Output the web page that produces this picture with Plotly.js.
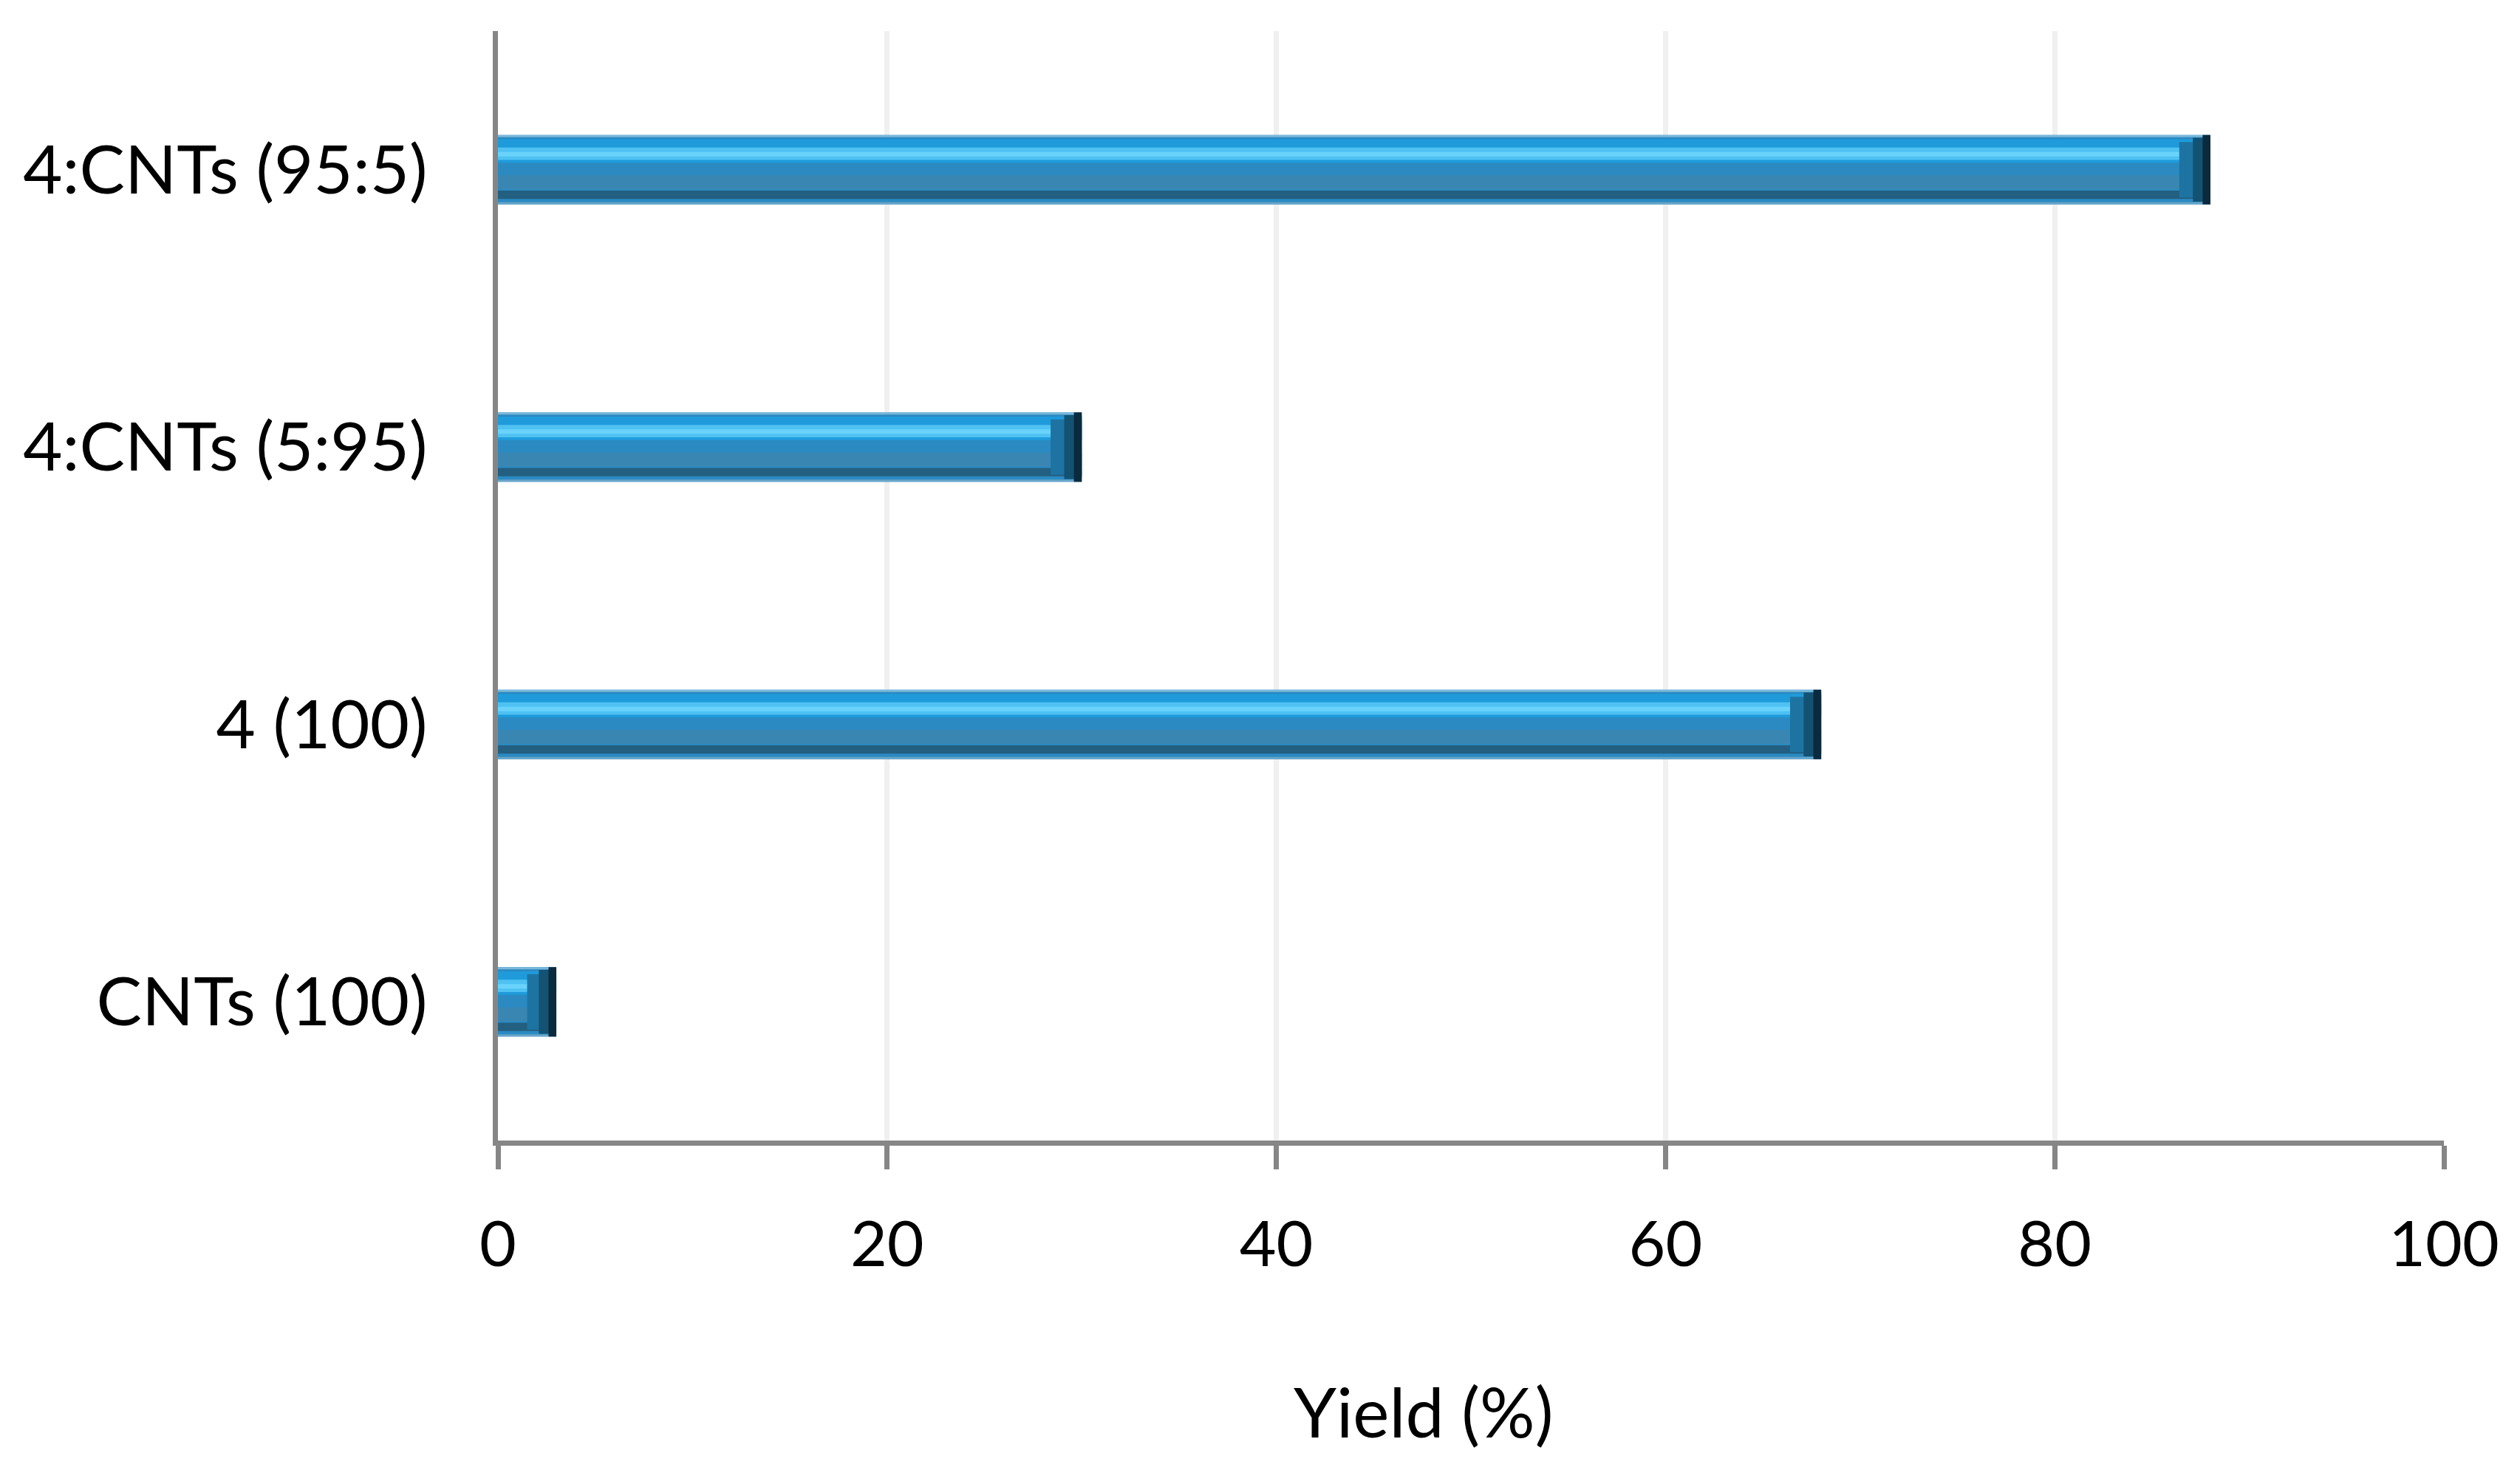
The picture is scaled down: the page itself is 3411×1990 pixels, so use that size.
<!DOCTYPE html>
<html>
<head>
<meta charset="utf-8">
<script src="https://cdn.plot.ly/plotly-3.0.1.min.js"></script>
<style>
html,body{margin:0;padding:0;background:#fff;}
#chart{width:3411px;height:1990px;}
</style>
</head>
<body>
<div id="chart"></div>
<script>
// Data (bottom to top on the category axis)
const categories = ["CNTs (100)", "4 (100)", "4:CNTs (5:95)", "4:CNTs (95:5)"];
const yieldValues = [3, 68, 30, 88];
const xTickValues = [0, 20, 40, 60, 80, 100];
const xTickLabels = ["0", "20", "40", "60", "80", "100"];
const xAxisTitle = "Yield (%)";

const FONT = "Lato, 'Open Sans', sans-serif";
const BAR_W = 0.25;

// Layered bars to imitate the bevelled look
function layer(color, width, offset, extra) {
  return Object.assign({
    type: "bar",
    orientation: "h",
    y: categories,
    x: yieldValues,
    width: width,
    offset: offset,
    marker: { color: color, line: { width: 0 } },
    hoverinfo: "skip",
    showlegend: false
  }, extra || {});
}

const capWide = yieldValues.map(v => Math.min(1.6, v / 2));
const capMid = yieldValues.map(v => Math.min(0.9, v / 3));
const capNarrow = yieldValues.map(v => Math.min(0.4, v / 6));

const traces = [
  layer("#2b8ac2", BAR_W, -BAR_W / 2),                     // body
  layer("#1f9bdb", 0.085, 0.025),                            // upper band
  layer("#4fc2f3", 0.045, 0.035),                            // highlight
  layer("#6ad3fb", 0.016, 0.048),                            // bright core
  layer("#3a86b2", 0.05, -0.07),                             // lower mid
  layer("#235f80", 0.03, -0.105),                            // bottom shadow
  layer("#7ab8da", 0.008, 0.117),                            // top edge
  layer("#6aa6c8", 0.008, -0.125),                           // bottom edge
  layer("#1d74a3", 0.2, -0.1, {                              // end bevel
    x: capWide, base: yieldValues.map((v, i) => v - capWide[i])
  }),
  layer("#135273", 0.23, -0.115, {                           // end bevel darker
    x: capMid, base: yieldValues.map((v, i) => v - capMid[i])
  }),
  layer("#0a2a3e", BAR_W, -BAR_W / 2, {                      // end edge
    x: capNarrow, base: yieldValues.map((v, i) => v - capNarrow[i])
  })
];

const layout = {
  width: 3411,
  height: 1990,
  paper_bgcolor: "#ffffff",
  plot_bgcolor: "#ffffff",
  margin: { l: 674, r: 103, t: 42, b: 446, pad: 0 },
  barmode: "overlay",
  font: { family: FONT, size: 86, color: "#000000" },
  xaxis: {
    range: [0, 100],
    tickvals: xTickValues,
    ticktext: xTickLabels,
    showgrid: true,
    gridcolor: "#f0f0f0",
    gridwidth: 7,
    zeroline: false,
    showline: true,
    linecolor: "#868686",
    linewidth: 7,
    ticks: "outside",
    ticklen: 32,
    tickwidth: 7,
    tickcolor: "#868686",
    ticklabelstandoff: 28,
    tickfont: { family: FONT, size: 86, color: "#000000" },
    fixedrange: true
  },
  yaxis: {
    type: "category",
    categoryorder: "array",
    categoryarray: categories,
    showgrid: false,
    zeroline: false,
    showline: true,
    linecolor: "#868686",
    linewidth: 7,
    ticks: "",
    ticklabelstandoff: 70,
    tickfont: { family: FONT, size: 92, color: "#000000" },
    fixedrange: true
  },
  annotations: [{
    text: xAxisTitle,
    xref: "paper", yref: "paper",
    x: (1927 - 674) / 2634, y: -0.244,
    xanchor: "center", yanchor: "middle",
    showarrow: false,
    font: { family: FONT, size: 93, color: "#000000" }
  }]
};

Plotly.newPlot("chart", traces, layout, { displayModeBar: false, staticPlot: true });
</script>
</body>
</html>
